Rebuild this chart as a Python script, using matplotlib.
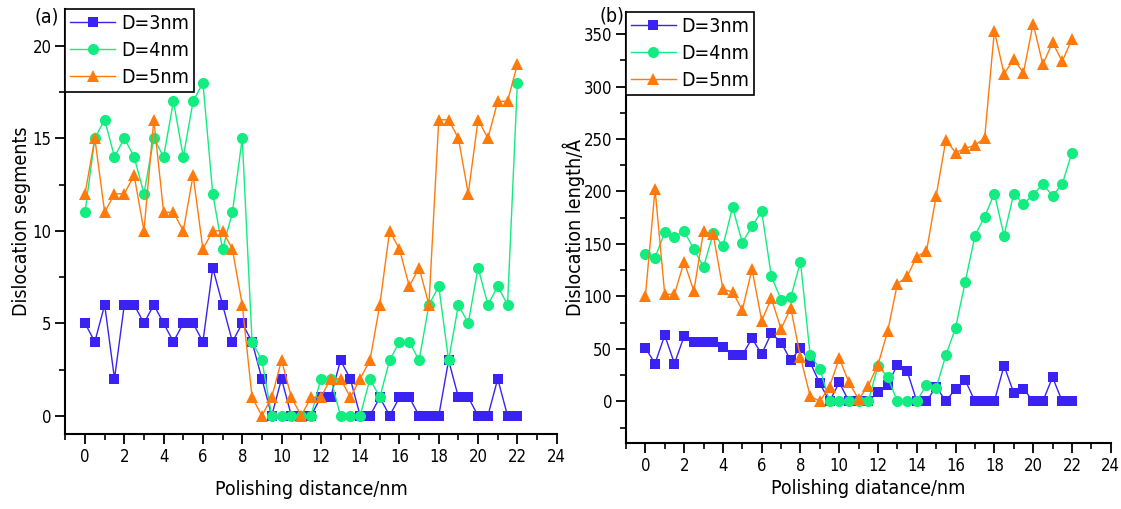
import matplotlib
matplotlib.use("Agg")
import matplotlib.pyplot as plt
from matplotlib import font_manager
from matplotlib.ticker import MultipleLocator

# ---- data -------------------------------------------------------------
distance = [i * 0.5 for i in range(45)]  # polishing distance, nm (0 .. 22, step 0.5)

seg_d3 = [5, 4, 6, 2, 6, 6, 5, 6, 5, 4, 5, 5, 4, 8, 6, 4, 5, 4, 2, 0, 2, 0, 0, 0,
          1, 1, 3, 2, 0, 0, 1, 0, 1, 1, 0, 0, 0, 3, 1, 1, 0, 0, 2, 0, 0]
seg_d4 = [11, 15, 16, 14, 15, 14, 12, 15, 14, 17, 14, 17, 18, 12, 9, 11, 15, 4, 3, 0, 0, 0, 0, 0,
          2, 2, 0, 0, 0, 2, 1, 3, 4, 4, 3, 6, 7, 3, 6, 5, 8, 6, 7, 6, 18]
seg_d5 = [12, 15, 11, 12, 12, 13, 10, 16, 11, 11, 10, 13, 9, 10, 10, 9, 6, 1, 0, 1, 3, 1, 0, 1,
          1, 2, 2, 1, 2, 3, 6, 10, 9, 7, 8, 6, 16, 16, 15, 12, 16, 15, 17, 17, 19]

len_d3 = [51, 36, 63, 36, 62, 57, 57, 57, 52, 44, 44, 60, 45, 65, 56, 39, 51, 37, 17, 0, 18, 0, 0, 0,
          9, 16, 35, 29, 0, 0, 14, 0, 12, 20, 0, 0, 0, 34, 8, 12, 0, 0, 23, 0, 0]
len_d4 = [140, 137, 161, 157, 162, 145, 128, 160, 148, 185, 151, 167, 181, 119, 97, 99, 133, 44, 31, 0, 0, 0, 0, 0,
          34, 23, 0, 0, 0, 16, 13, 44, 70, 114, 158, 176, 198, 158, 198, 188, 197, 207, 196, 207, 237]
len_d5 = [100, 202, 102, 102, 133, 105, 162, 159, 107, 104, 87, 126, 77, 98, 69, 89, 42, 5, 0, 14, 41, 18, 2, 15,
          35, 67, 112, 119, 138, 143, 196, 249, 237, 241, 244, 251, 353, 312, 326, 313, 360, 321, 342, 324, 345]

series_labels = ["D=3nm", "D=4nm", "D=5nm"]

# ---- style ------------------------------------------------------------
names = {f.name for f in font_manager.fontManager.ttflist}
if "Liberation Sans Narrow" in names:
    plt.rcParams["font.family"] = ["Liberation Sans Narrow", "DejaVu Sans"]
else:
    plt.rcParams["font.family"] = ["DejaVu Sans"]
    plt.rcParams["font.stretch"] = "condensed"

colors = ["#3a22f2", "#12ec80", "#ff7a0a"]
markers = ["s", "o", "^"]
msizes = [7.3, 8.0, 9.0]

fig = plt.figure(figsize=(11.21, 5.09), dpi=100)
ax_a = fig.add_axes([0.0583, 0.1468, 0.4383, 0.8359])
ax_b = fig.add_axes([0.5584, 0.1291, 0.4324, 0.8473])


def style_axes(ax, ymajor, yminor):
    for side in ("top", "right"):
        ax.spines[side].set_visible(False)
    for side in ("left", "bottom"):
        ax.spines[side].set_linewidth(1.5)
    ax.xaxis.set_major_locator(MultipleLocator(2))
    ax.xaxis.set_minor_locator(MultipleLocator(1))
    ax.yaxis.set_major_locator(MultipleLocator(ymajor))
    ax.yaxis.set_minor_locator(MultipleLocator(yminor))
    ax.tick_params(which="major", direction="out", length=7, width=1.3, labelsize=12, pad=3)
    ax.tick_params(which="minor", direction="out", length=4, width=1.2)
    ax.set_xlim(-1, 24)


def draw(ax, ys):
    for y, c, m, ms, lab in zip(ys, colors, markers, msizes, series_labels):
        ax.plot(distance, y, color=c, lw=1.0, marker=m, markersize=ms,
                markeredgewidth=0, label=lab)
    leg = ax.legend(loc="upper left", bbox_to_anchor=(0.0, 1.0), fontsize=14,
                    frameon=True, fancybox=False, framealpha=1, edgecolor="black",
                    borderpad=0.25, labelspacing=0.42, handlelength=2.3,
                    handletextpad=0.3, borderaxespad=0)
    leg.get_frame().set_linewidth(1.2)


draw(ax_a, [seg_d3, seg_d4, seg_d5])
style_axes(ax_a, 5, 2.5)
ax_a.set_ylim(-1, 22)
ax_a.set_xlabel("Polishing distance/nm", fontsize=14, labelpad=10)
ax_a.set_ylabel("Dislocation segments", fontsize=14, labelpad=1)

draw(ax_b, [len_d3, len_d4, len_d5])
style_axes(ax_b, 50, 25)
ax_b.set_ylim(-40, 371)
ax_b.set_xlabel("Polishing diatance/nm", fontsize=14, labelpad=3)
ax_b.set_ylabel("Dislocation length/Å", fontsize=14, labelpad=-1)

# panel tags
fig.text(47 / 1121, 1 - 17 / 509, "(a)", fontsize=14, ha="center", va="center")
fig.text(612 / 1121, 1 - 16 / 509, "(b)", fontsize=14, ha="center", va="center")

fig.savefig("out.png", dpi=100)
